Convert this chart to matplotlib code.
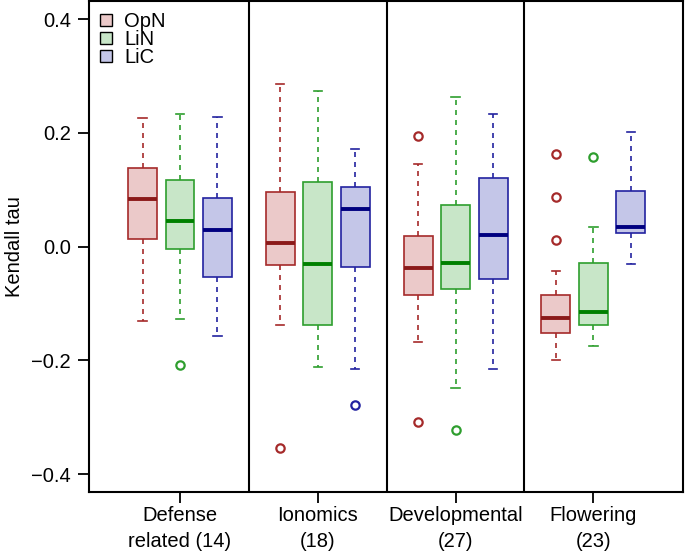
import matplotlib
matplotlib.use("Agg")
import matplotlib.pyplot as plt
from matplotlib.patches import Patch

plt.rcParams['font.family'] = ['Liberation Sans', 'DejaVu Sans']

groups = ["Defense\nrelated (14)", "Ionomics\n(18)", "Developmental\n(27)", "Flowering\n(23)"]
series = ["OpN", "LiN", "LiC"]

# per series: lists over groups
whislo = {
    "OpN": [-0.131, -0.138, -0.167, -0.199],
    "LiN": [-0.127, -0.211, -0.249, -0.175],
    "LiC": [-0.157, -0.216, -0.215, -0.030],
}
q1 = {
    "OpN": [0.0135, -0.033, -0.0855, -0.151],
    "LiN": [-0.0035, -0.138, -0.075, -0.138],
    "LiC": [-0.054, -0.036, -0.056, 0.0246],
}
med = {
    "OpN": [0.084, 0.0065, -0.038, -0.126],
    "LiN": [0.0447, -0.030, -0.0287, -0.1155],
    "LiC": [0.030, 0.0658, 0.020, 0.0347],
}
q3 = {
    "OpN": [0.138, 0.0957, 0.0194, -0.0855],
    "LiN": [0.117, 0.1138, 0.0739, -0.028],
    "LiC": [0.086, 0.105, 0.1208, 0.0985],
}
whishi = {
    "OpN": [0.227, 0.286, 0.145, -0.0433],
    "LiN": [0.233, 0.2744, 0.2633, 0.0347],
    "LiC": [0.229, 0.1724, 0.2329, 0.2012],
}
fliers = {
    "OpN": [[], [-0.3547], [0.1947, -0.309], [0.1636, 0.0869, 0.0123]],
    "LiN": [[-0.2075], [], [-0.3224], [0.1583]],
    "LiC": [[], [-0.2785], [], []],
}

face = {"OpN": "#EBC9C9", "LiN": "#C8E6C8", "LiC": "#C4C6E8"}
edge = {"OpN": "#A52A2A", "LiN": "#2E9E2E", "LiC": "#2222A0"}
medc = {"OpN": "#8B1A1A", "LiN": "#008000", "LiC": "#000080"}

FS = 14.5

fig = plt.figure(figsize=(6.85, 5.54), dpi=100)
ax = fig.add_axes([0.130, 0.1114, 0.867, 0.8866])

offsets = {"OpN": -0.272, "LiN": 0.0, "LiC": 0.272}
for s in series:
    stats = []
    for g in range(len(groups)):
        stats.append(dict(whislo=whislo[s][g], q1=q1[s][g], med=med[s][g],
                          q3=q3[s][g], whishi=whishi[s][g], fliers=fliers[s][g]))
    pos = [g + offsets[s] for g in range(len(groups))]
    ax.bxp(stats, positions=pos, widths=0.21, capwidths=0.06, patch_artist=True,
           showfliers=True, manage_ticks=False,
           boxprops=dict(facecolor=face[s], edgecolor=edge[s], linewidth=1.2),
           medianprops=dict(color=medc[s], linewidth=2.8, solid_capstyle='butt'),
           whiskerprops=dict(color=edge[s], linewidth=1.2, linestyle=(0, (3, 3))),
           capprops=dict(color=edge[s], linewidth=1.2),
           flierprops=dict(marker='o', markerfacecolor='none', markeredgecolor=edge[s],
                           markersize=6, markeredgewidth=1.6, linestyle='none'))

for d in [0.5, 1.5, 2.5]:
    ax.axvline(d, color='black', linewidth=1.5)

ax.set_xlim(-0.66, 3.65)
ax.set_ylim(-0.432, 0.432)
ax.set_yticks([-0.4, -0.2, 0.0, 0.2, 0.4])
ax.set_yticklabels(["\u22120.4", "\u22120.2", "0.0", "0.2", "0.4"])
ax.set_xticks(range(len(groups)))
ax.set_xticklabels(groups, fontsize=FS, linespacing=1.45)
ax.tick_params(axis='y', labelsize=FS, length=8, width=1.3, direction='out', pad=5)
ax.tick_params(axis='x', labelsize=FS, length=8, width=1.3, direction='out', pad=2)
ax.set_ylabel("Kendall tau", fontsize=FS, labelpad=5)
for sp in ax.spines.values():
    sp.set_linewidth(1.5)

handles = [Patch(facecolor=face[s], edgecolor='black', linewidth=1.0, label=s) for s in series]
leg = ax.legend(handles=handles, loc='upper left', bbox_to_anchor=(0.0, 1.0), frameon=False,
                fontsize=FS, handlelength=0.6, handleheight=0.6, handletextpad=0.6,
                labelspacing=-0.05, borderpad=0.2, borderaxespad=0.35)

fig.savefig("out.png", dpi=100)
